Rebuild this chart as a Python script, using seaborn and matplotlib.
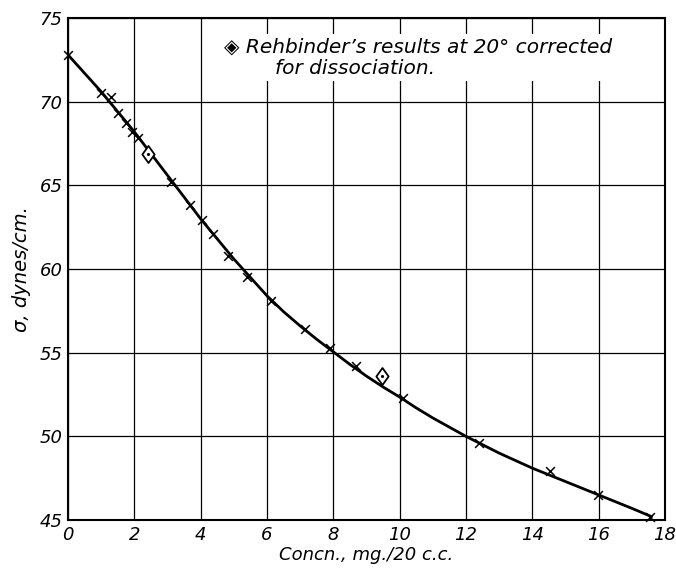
import numpy as np
import pandas as pd
import matplotlib.pyplot as plt
from matplotlib.path import Path
import seaborn as sns

# measured points (crosses)
conc = [0.0, 1.01, 1.31, 1.52, 1.76, 1.94, 2.12, 3.10, 3.67, 4.03, 4.36,
        4.81, 5.40, 6.13, 7.14, 7.91, 8.67, 10.10, 12.39, 14.54, 15.97, 17.55]
sigma = [72.8, 70.5, 70.3, 69.3, 68.7, 68.2, 67.8, 65.2, 63.8, 62.9, 62.1,
         60.8, 59.5, 58.1, 56.4, 55.3, 54.2, 52.3, 49.6, 47.9, 46.5, 45.2]

# Rehbinder's results
reh_conc = [2.42, 9.46]
reh_sigma = [66.9, 53.6]

# smooth curve
curve_x = [0, 0.5, 1, 1.5, 2, 2.5, 3, 3.5, 4, 4.5, 5, 5.5, 6, 6.5, 7, 7.5, 8,
           8.5, 9, 9.5, 10, 10.5, 11, 11.5, 12, 12.5, 13, 13.5, 14, 14.5, 15,
           15.5, 16, 16.5, 17, 17.6]
curve_y = [72.8, 71.7, 70.6, 69.4, 68.2, 66.9, 65.6, 64.3, 63.0, 61.8, 60.6,
           59.5, 58.4, 57.45, 56.6, 55.8, 55.05, 54.3, 53.6, 52.95, 52.35, 51.7,
           51.1, 50.55, 50.0, 49.5, 49.0, 48.55, 48.1, 47.7, 47.3,
           46.9, 46.5, 46.1, 45.7, 45.2]

df = pd.DataFrame({'conc': conc, 'sigma': sigma})
reh = pd.DataFrame({'conc': reh_conc, 'sigma': reh_sigma})
curve = pd.DataFrame({'x': curve_x, 'y': curve_y})

sns.set_style('white')
plt.rcParams['font.family'] = ['DejaVu Sans']
plt.rcParams['text.color'] = 'black'
plt.rcParams['axes.labelcolor'] = 'black'
plt.rcParams['xtick.color'] = 'black'
plt.rcParams['ytick.color'] = 'black'

fig = plt.figure(figsize=(6.76, 5.72), dpi=100)
ax = fig.add_axes([0.1006, 0.0909, 0.8830, 0.8776])

sns.lineplot(data=curve, x='x', y='y', ax=ax, color='black', lw=2.0,
             sort=False, zorder=3)
sns.scatterplot(data=df, x='conc', y='sigma', ax=ax, marker='x', color='black',
                s=40, linewidth=1.1, zorder=4, clip_on=False)

diamond = Path([(0, 1), (0.72, 0), (0, -1), (-0.72, 0), (0, 1)],
               [Path.MOVETO, Path.LINETO, Path.LINETO, Path.LINETO, Path.CLOSEPOLY])
sns.scatterplot(data=reh, x='conc', y='sigma', ax=ax, marker=diamond, s=150,
                facecolor='white', edgecolor='black', linewidth=1.3, zorder=5)
sns.scatterplot(data=reh, x='conc', y='sigma', ax=ax, marker='o', s=5,
                color='black', linewidth=0, zorder=6)

ax.set_xlim(0, 18)
ax.set_ylim(45, 75)
ax.set_xticks(range(0, 19, 2))
ax.set_yticks(range(45, 76, 5))
ax.grid(True, color='black', lw=0.9)
ax.set_axisbelow(True)
for s in ax.spines.values():
    s.set_color('black')
    s.set_linewidth(1.5)
ax.tick_params(length=0, pad=4, labelsize=13)
for lab in ax.get_xticklabels() + ax.get_yticklabels():
    lab.set_style('italic')

ax.set_xlabel('Concn., mg./20 c.c.', fontsize=13, style='italic', labelpad=2)
ax.set_ylabel('σ, dynes/cm.', fontsize=14, style='italic', labelpad=6)

ax.text(0.262, 0.962, '\u25c8 Rehbinder\u2019s results at 20\u00b0 corrected\n'
        '        for dissociation.', transform=ax.transAxes, fontsize=14.5,
        style='italic', va='top', ha='left', linespacing=1.2, zorder=7,
        bbox=dict(facecolor='white', edgecolor='none', pad=2))

fig.savefig('out.png', dpi=100)
